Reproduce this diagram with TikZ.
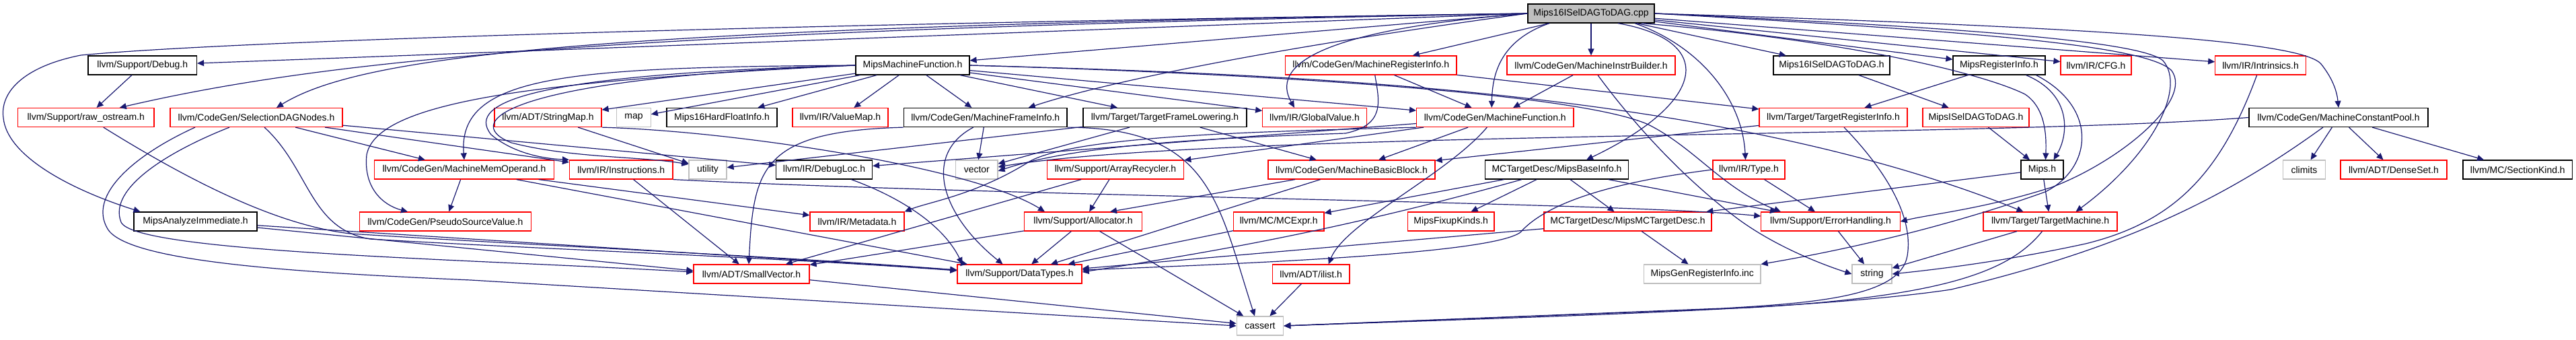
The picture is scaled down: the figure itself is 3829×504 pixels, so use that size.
\documentclass[tikz,border=0pt]{standalone}
\usepackage{fontspec}
\setmainfont{Liberation Sans}
\usetikzlibrary{arrows.meta}
\definecolor{edgeblue}{HTML}{191970}
\definecolor{boxred}{HTML}{FF0000}
\definecolor{boxgray}{HTML}{BFBFBF}
\definecolor{topfill}{HTML}{BFBFBF}
\begin{document}
\begin{tikzpicture}[x=1pt,y=-1pt,
  box/.style={draw, rectangle, minimum height=28pt, inner sep=0pt, line width=1.2pt, font=\fontsize{14}{16}\selectfont, text=black},
  blk/.style={box, draw=black},
  redb/.style={box, draw=boxred},
  grayb/.style={box, draw=boxgray},
  topb/.style={box, draw=black, fill=topfill},
  edge/.style={draw=edgeblue, line width=1.2pt, -{Triangle[length=10pt,width=9pt]}}
]
\useasboundingbox (0,0) rectangle (3829,504);
% row 0
\node[topb, minimum width=188pt] (cpp) at (2365,20) {Mips16ISelDAGToDAG.cpp};
% row 1
\node[blk, minimum width=161.5pt] (debug) at (211.75,97) {llvm/Support/Debug.h};
\node[blk, minimum width=169pt] (mmf) at (1356.5,97) {MipsMachineFunction.h};
\node[redb, minimum width=254.5pt] (mri) at (2037.75,97) {llvm/CodeGen/MachineRegisterInfo.h};
\node[redb, minimum width=250pt] (mib) at (2365,97) {llvm/CodeGen/MachineInstrBuilder.h};
\node[blk, minimum width=173pt] (m16h) at (2722.5,97) {Mips16ISelDAGToDAG.h};
\node[blk, minimum width=137pt] (mreg) at (2971.5,97) {MipsRegisterInfo.h};
\node[redb, minimum width=105pt] (cfg) at (3115.5,97) {llvm/IR/CFG.h};
\node[redb, minimum width=134.5pt] (intr) at (3360,97) {llvm/IR/Intrinsics.h};
% row 2
\node[redb, minimum width=202.5pt] (raw) at (127.75,174.5) {llvm/Support/raw\_ostream.h};
\node[redb, minimum width=256pt] (sdn) at (381,174.5) {llvm/CodeGen/SelectionDAGNodes.h};
\node[redb, minimum width=159pt] (smap) at (814.5,174.5) {llvm/ADT/StringMap.h};
\node[grayb, minimum width=50.5pt] (map) at (942,174.5) {map};
\node[blk, minimum width=164pt] (hf) at (1073,174.5) {Mips16HardFloatInfo.h};
\node[redb, minimum width=142pt] (vmap) at (1249,174.5) {llvm/IR/ValueMap.h};
\node[blk, minimum width=242.5pt] (mfi) at (1464.75,174.5) {llvm/CodeGen/MachineFrameInfo.h};
\node[blk, minimum width=243pt] (tfl) at (1731.5,174.5) {llvm/Target/TargetFrameLowering.h};
\node[redb, minimum width=154.5pt] (gv) at (1954,174.5) {llvm/IR/GlobalValue.h};
\node[redb, minimum width=233.4pt] (mf) at (2222.3,174.5) {llvm/CodeGen/MachineFunction.h};
\node[redb, minimum width=220pt] (tri) at (2725,174.5) {llvm/Target/TargetRegisterInfo.h};
\node[redb, minimum width=158pt] (misel) at (2937,174.5) {MipsISelDAGToDAG.h};
\node[blk, minimum width=266pt] (mcp) at (3476,174.5) {llvm/CodeGen/MachineConstantPool.h};
% row 3
\node[redb, minimum width=266.5pt] (mmo) at (690,252) {llvm/CodeGen/MachineMemOperand.h};
\node[redb, minimum width=153.4pt] (inst) at (923.3,252) {llvm/IR/Instructions.h};
\node[grayb, minimum width=56pt] (util) at (1052,252) {utility};
\node[blk, minimum width=143pt] (dloc) at (1225,252) {llvm/IR/DebugLoc.h};
\node[grayb, minimum width=62.4pt] (vec) at (1451.8,252) {vector};
\node[redb, minimum width=203.5pt] (arec) at (1658,252) {llvm/Support/ArrayRecycler.h};
\node[redb, minimum width=248pt] (mbb) at (2009,252) {llvm/CodeGen/MachineBasicBlock.h};
\node[blk, minimum width=213.5pt] (mbi) at (2314,252) {MCTargetDesc/MipsBaseInfo.h};
\node[redb, minimum width=107pt] (type) at (2599.5,252) {llvm/IR/Type.h};
\node[blk, minimum width=63pt] (mips) at (3035.5,252) {Mips.h};
\node[grayb, minimum width=62.4pt] (climits) at (3425,252) {climits};
\node[redb, minimum width=158pt] (dset) at (3558,252) {llvm/ADT/DenseSet.h};
\node[blk, minimum width=162.6pt] (skind) at (3742.3,252) {llvm/MC/SectionKind.h};
% row 4
\node[blk, minimum width=183pt] (mai) at (290.5,329) {MipsAnalyzeImmediate.h};
\node[redb, minimum width=255.5pt] (psv) at (662,329) {llvm/CodeGen/PseudoSourceValue.h};
\node[redb, minimum width=140pt] (meta) at (1274,329) {llvm/IR/Metadata.h};
\node[redb, minimum width=174.5pt] (alloc) at (1610,329) {llvm/Support/Allocator.h};
\node[redb, minimum width=134.5pt] (mcexpr) at (1900.7,329) {llvm/MC/MCExpr.h};
\node[redb, minimum width=128.5pt] (fixup) at (2156.7,329) {MipsFixupKinds.h};
\node[redb, minimum width=249pt] (mcdesc) at (2419.5,329) {MCTargetDesc/MipsMCTargetDesc.h};
\node[redb, minimum width=206.3pt] (eh) at (2721,329) {llvm/Support/ErrorHandling.h};
\node[redb, minimum width=199pt] (tm) at (3047.5,329) {llvm/Target/TargetMachine.h};
% row 5
\node[redb, minimum width=172pt] (svec) at (1117,407) {llvm/ADT/SmallVector.h};
\node[redb, minimum width=185pt] (dt) at (1515.5,407) {llvm/Support/DataTypes.h};
\node[redb, minimum width=114.5pt] (ilist) at (1948.7,407) {llvm/ADT/ilist.h};
\node[grayb, minimum width=173.4pt] (gen) at (2530.3,407) {MipsGenRegisterInfo.inc};
\node[grayb, minimum width=59pt] (str) at (2782.5,407) {string};
% row 6
\node[grayb, minimum width=69.5pt] (cassert) at (1873,484) {cassert};

% ---- edges from the .cpp
\draw[edge] (cpp.west) -- (debug);
\draw[edge] (cpp.west) .. controls (900,45) and (480,90) .. ([xshift=50pt]raw.north);
\draw[edge] (cpp.west) .. controls (900,40) and (540,80) .. ([xshift=30pt]sdn.north);
\draw[edge] (cpp.west) .. controls (1200,35) and (350,60) .. (120,82) .. controls (30,100) and (0,140) .. (5,175) .. controls (10,230) and (100,280) .. ([xshift=-82pt]mai.north);
\draw[edge] (cpp.west) -- (mmf);
\draw[edge] (cpp.west) .. controls (1900,70) and (1650,120) .. ([xshift=64pt]mfi.north);
\draw[edge] (cpp.west) .. controls (1950,45) and (1890,100) .. ([xshift=-30pt]gv.north);
\draw[edge] (cpp) -- (mri);
\draw[edge] ([xshift=-62pt]cpp.south) .. controls (2230,60) and (2218,110) .. ([xshift=-5pt]mf.north);
\draw[edge] (cpp) -- (mib);
\draw[edge] ([xshift=40pt]cpp.south) .. controls (2550,60) and (2540,150) .. ([xshift=44pt]mbi.north);
\draw[edge] ([xshift=65pt]cpp.south) .. controls (2530,70) and (2590,150) .. ([xshift=-5pt]type.north);
\draw[edge] ([xshift=75pt]cpp.south) .. controls (2750,60) and (2950,110) .. (3010,140) .. controls (3040,160) and (3042,200) .. ([xshift=5pt]mips.north);
\draw[edge] (cpp) -- (m16h);
\draw[edge] (cpp) -- (mreg);
\draw[edge] (cpp) -- (cfg);
\draw[edge] (cpp) -- (intr);
\draw[edge] (cpp.east) .. controls (3100,40) and (3420,60) .. (3450,95) .. controls (3470,120) and (3474,140) .. (mcp.north);
\draw[edge] (cpp.east) .. controls (2900,40) and (3180,60) .. (3215,90) .. controls (3250,130) and (3200,230) .. ([xshift=38pt]tm.north);
\draw[edge] (cpp.east) .. controls (2900,45) and (3190,65) .. (3228,105) .. controls (3260,150) and (3150,240) .. (3050,278) .. controls (2950,310) and (2870,318) .. (eh.east);

% ---- left part
\draw[edge] (debug) -- (raw);
\draw[edge] ([xshift=26pt]raw.south) .. controls (300,280) and (420,335) .. (520,347) .. controls (800,365) and (1150,380) .. ([yshift=6pt]dt.west);
\draw[edge] (sdn) -- (mmo);
\draw[edge] (sdn) -- (inst);
\draw[edge] (sdn) -- (dloc);
\draw[edge] ([xshift=12pt]sdn.south) .. controls (460,250) and (460,340) .. (550,355) .. controls (800,370) and (1150,382) .. ([yshift=5pt]dt.west);
\draw[edge] ([xshift=-40pt]sdn.south) .. controls (250,225) and (160,280) .. (180,330) .. controls (200,375) and (700,385) .. ([yshift=3pt]svec.west);
\draw[edge] ([xshift=-91pt]sdn.south) .. controls (200,230) and (130,290) .. (160,340) .. controls (190,390) and (450,405) .. (700,416) -- (cassert.west);
\draw[edge] (mai) -- ([yshift=5pt]svec.west);
\draw[edge] (mai) -- ([yshift=6pt]dt.west);

% ---- MipsMachineFunction.h
\draw[edge] (mmf) -- (smap);
\draw[edge] (mmf) -- (map);
\draw[edge] (mmf) -- (hf);
\draw[edge] (mmf) -- (vmap);
\draw[edge] (mmf) -- (mfi);
\draw[edge] (mmf) -- (tfl);
\draw[edge] (mmf) -- (gv);
\draw[edge] (mmf) -- (mf);
\draw[edge] (mmf.west) .. controls (850,100) and (680,110) .. (mmo.north);
\draw[edge] (mmf.west) .. controls (800,110) and (690,150) .. (730,200) .. controls (760,225) and (800,235) .. (inst.north west);
\draw[edge] (mmf.west) .. controls (760,115) and (680,180) .. (760,212) .. controls (850,235) and (950,232) .. ([yshift=8pt]util.west);
\draw[edge] (mmf.west) .. controls (800,120) and (560,150) .. (545,230) .. controls (540,280) and (570,305) .. ([xshift=-56pt]psv.north);
\draw[edge] (mmf.east) .. controls (1900,110) and (2550,130) .. ([xshift=-40pt]tm.north);
\draw[edge] (mmf.east) .. controls (1900,110) and (2350,140) .. (2450,185) .. controls (2520,220) and (2560,280) .. ([xshift=-74pt]eh.north);

% ---- row 2 sources
\draw[edge] (smap) -- (util);
\draw[edge] (smap.south east) .. controls (1100,195) and (1450,250) .. ([xshift=-57pt]alloc.north);
\draw[edge] (mfi) -- (vec);
\draw[edge] ([xshift=-18pt]mfi.south) .. controls (1370,230) and (1400,320) .. ([xshift=-25pt]dt.north);
\draw[edge] (mfi.south west) .. controls (1130,195) and (1120,250) .. ([xshift=-4pt]svec.north);
\draw[edge] (mfi.south east) .. controls (1800,190) and (1810,300) .. ([xshift=-8pt]cassert.north);
\draw[edge] (tfl) -- (vec);
\draw[edge] (tfl) -- (util);
\draw[edge] (tfl) -- (mbb);
\draw[edge] (mf) -- (mbb);
\draw[edge] (mf) -- (dloc);
\draw[edge] (mf) -- (arec);
\draw[edge] ([xshift=-12pt]mf.south) .. controls (2150,260) and (2000,330) .. ([xshift=26pt]ilist.north);
\draw[edge] (mf.south west) .. controls (1900,195) and (1600,200) .. (1530,240) .. controls (1450,290) and (1380,300) .. (meta.north east);
\draw[edge] (mri) -- (mf);
\draw[edge] (mri) -- (tri);
\draw[edge] ([xshift=6pt]mri.south) .. controls (2050,150) and (2060,185) .. (2000,198) .. controls (1800,205) and (1600,215) .. ([yshift=-2pt]vec.east);
\draw[edge] (mib) -- (mf);
\draw[edge] ([xshift=10pt]mib.south) .. controls (2440,200) and (2520,280) .. (2590,330) .. controls (2640,365) and (2700,390) .. (str.west);
\draw[edge] (m16h) -- (misel);
\draw[edge] (misel) -- (mips);
\draw[edge] (mreg) -- (tri);
\draw[edge] ([xshift=40pt]mreg.south) .. controls (3080,140) and (3075,200) .. ([xshift=17pt]mips.north);
\draw[edge] ([xshift=55pt]mreg.south) .. controls (3120,160) and (3110,250) .. (3040,285) .. controls (2900,335) and (2750,370) .. (gen.north east);
\draw[edge] (tri) -- (mbb);
\draw[edge] ([xshift=16pt]tri.south) .. controls (2800,250) and (2845,320) .. (2835,380) .. controls (2825,440) and (2700,450) .. (2560,458) -- (cassert.east);
\draw[edge] (intr) .. controls (3300,260) and (3230,330) .. (3100,362) .. controls (2980,388) and (2880,400) .. (str.east);
\draw[edge] (mcp) -- (climits);
\draw[edge] (mcp) -- (dset);
\draw[edge] (mcp) -- (skind);
\draw[edge] (mcp.west) .. controls (2950,205) and (1800,195) .. ([yshift=4pt]vec.east);
\draw[edge] ([xshift=-23pt]mcp.south) .. controls (3300,300) and (3150,370) .. (2900,430) .. controls (2700,460) and (2300,470) .. (cassert.east);

% ---- row 3 sources
\draw[edge] (mmo) -- (psv);
\draw[edge] (mmo) -- (meta);
\draw[edge] (mmo) -- (dt);
\draw[edge] (inst) -- (svec);
\draw[edge] (inst.south east) .. controls (1500,292) and (2400,300) .. ([yshift=8pt]eh.west);
\draw[edge] (dloc) .. controls (1330,290) and (1400,330) .. ([xshift=-85pt]dt.north);
\draw[edge] (arec) -- (alloc);
\draw[edge] (arec) -- (svec);
\draw[edge] (mbb) -- (dt);
\draw[edge] (mbb) -- ([xshift=40pt]alloc.north);
\draw[edge] (mbi) -- (mcexpr);
\draw[edge] (mbi) .. controls (2000,340) and (1800,375) .. ([yshift=3pt]dt.east);
\draw[edge] (mbi) -- (fixup);
\draw[edge] (mbi) -- (mcdesc);
\draw[edge] (mbi) -- ([xshift=-80pt]eh.north);
\draw[edge] (type) -- (eh);
\draw[edge] (type.west) .. controls (2400,270) and (2300,300) .. (2260,345) .. controls (2220,375) and (1900,390) .. ([yshift=6pt]dt.east);
\draw[edge] (mips) -- (mcdesc);
\draw[edge] (mips) -- (tm);

% ---- row 4 sources
\draw[edge] (alloc) -- (dt);
\draw[edge] (alloc) -- (cassert);
\draw[edge] (alloc) -- (svec);
\draw[edge] (mcexpr) -- (dt);
\draw[edge] (mcdesc) -- (dt);
\draw[edge] (mcdesc) -- (gen);
\draw[edge] (eh) -- (str);
\draw[edge] (tm) -- (str);
\draw[edge] ([xshift=-12pt]tm.south) .. controls (2990,400) and (2900,440) .. (2600,457) -- (cassert.east);

% ---- row 5 sources
\draw[edge] (svec) -- (cassert);
\draw[edge] (ilist) -- (cassert);
\end{tikzpicture}
\end{document}
